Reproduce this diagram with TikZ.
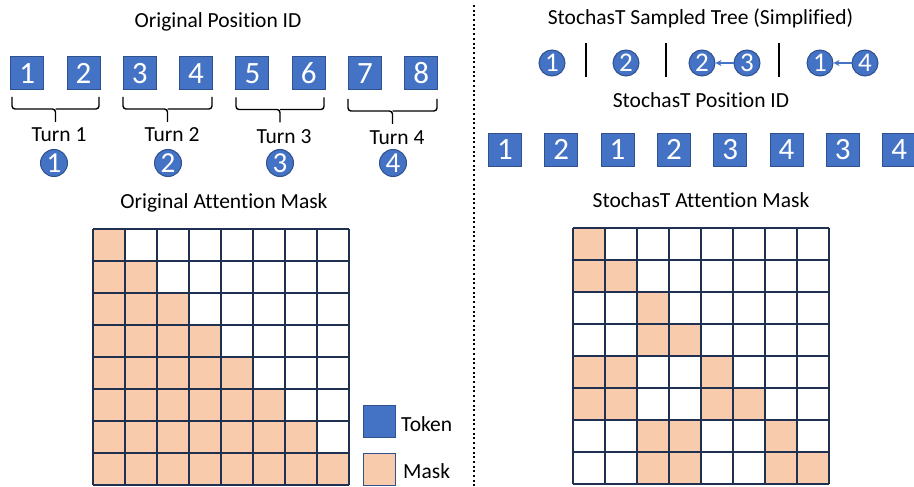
\documentclass[tikz,border=0pt]{standalone}
\usepackage{fontspec}
\setmainfont{Carlito}[Ligatures=NoCommon]
\usetikzlibrary{arrows.meta}
\definecolor{tokblue}{HTML}{4472C4}
\definecolor{tokedge}{HTML}{2F528F}
\definecolor{peach}{HTML}{F8CBAD}
\definecolor{gridc}{HTML}{1F3050}
\begin{document}
\begin{tikzpicture}[x=1pt,y=-1pt,
  lbl/.style={font=\fontsize{21.5}{25}\selectfont, inner sep=0pt, anchor=base},
  tok/.style={draw=tokedge, fill=tokblue, line width=1pt, minimum size=33pt, inner sep=0pt, text=white, font=\fontsize{31}{34}\selectfont},
  num/.style={circle, draw=tokedge, fill=tokblue, line width=1pt, minimum size=27pt, inner sep=0pt, text=white, font=\fontsize{29}{32}\selectfont},
  tnum/.style={num, minimum size=26pt, font=\fontsize{27}{30}\selectfont},
  bracket/.style={draw=black, line width=1.4pt, rounded corners=3pt},
  sep/.style={draw=black, line width=2pt},
  gridline/.style={draw=gridc, line width=1.8pt},
  treearrow/.style={draw=tokblue, line width=1.3pt, -{Stealth[length=6pt,width=6pt]}},
  divider/.style={draw=black, line width=2pt, dash pattern=on 2pt off 2.7pt}
]
\useasboundingbox (0,0) rectangle (914,487);

% ---------- left: original position id ----------
\node[lbl] (ttl1) at (218,27.5) {Original Position ID};
\foreach \i in {1,...,8} {
  \node[tok] (t\i) at ({27.2+56.3*(\i-1)},73.5) {\i};
}
% brackets
\foreach \a/\b/\dy [count=\k] in {12/99/0, 123/212/0, 236/324/0.5, 348/437/2} {
  \pgfmathsetmacro{\m}{(\a+\b)/2}
  \draw[bracket] (\a,97+\dy) -- (\a,109+\dy) -- (\m,109+\dy) -- (\m,122+\dy);
  \draw[bracket] (\b,97+\dy) -- (\b,109+\dy) -- (\m,109+\dy);
}
\node[lbl] (turn1) at (59,142) {Turn 1};
\node[lbl] (turn2) at (172,142) {Turn 2};
\node[lbl] (turn3) at (284,143) {Turn 3};
\node[lbl] (turn4) at (397,145) {Turn 4};
\node[num] (c1) at (54,163) {1};
\node[num] (c2) at (168,163) {2};
\node[num] (c3) at (280,163) {3};
\node[num] (c4) at (393,163) {4};

% ---------- left: original attention mask ----------
\node[lbl] (ttl2) at (224,208) {Original Attention Mask};
\foreach \r in {1,...,8} {
  \foreach \c in {1,...,\r} {
    \fill[peach] ({93+32*(\c-1)},{229+32*(\r-1)}) rectangle ++(32,32);
  }
}
\foreach \k in {0,...,8} {
  \draw[gridline] ({93+32*\k},229) -- ({93+32*\k},485);
  \draw[gridline] (93,{229+32*\k}) -- (349,{229+32*\k});
}

% ---------- legend ----------
\node[tok, minimum size=32pt] (legtok) at (379,421) {};
\node[lbl, anchor=base west] (legtoktxt) at (401,431) {Token};
\node[tok, fill=peach, minimum size=32pt] (legmask) at (379,469) {};
\node[lbl, anchor=base west] (legmasktxt) at (403,478) {Mask};

% ---------- divider ----------
\coordinate (dtop) at (474,5);
\coordinate (dbot) at (474,487);
\draw[divider] (dtop) -- (dbot);

% ---------- right: sampled tree ----------
\node[lbl] (ttl3) at (700.5,25) {StochasT Sampled Tree (Simplified)};
\node[tnum] (r1) at (552,63) {1};
\node[tnum] (r2) at (626,63) {2};
\node[tnum] (r3) at (702,63) {2};
\node[tnum] (r4) at (747,63) {3};
\node[tnum] (r5) at (820,63) {1};
\node[tnum] (r6) at (865,63) {4};
\coordinate (b1t) at (586,43); \coordinate (b1b) at (586,77);
\coordinate (b2t) at (666,43); \coordinate (b2b) at (666,77);
\coordinate (b3t) at (779,43); \coordinate (b3b) at (779,77);
\draw[sep] (b1t) -- (b1b);
\draw[sep] (b2t) -- (b2b);
\draw[sep] (b3t) -- (b3b);
\draw[treearrow] (r4) -- (r3);
\draw[treearrow] (r6) -- (r5);

% ---------- right: stochast position id ----------
\node[lbl] (ttl4) at (701,107) {StochasT Position ID};
\foreach \v [count=\i] in {1,2,1,2,3,4,3,4} {
  \node[tok] (s\i) at ({505+56.3*(\i-1)},149.5) {\v};
}

% ---------- right: stochast attention mask ----------
\node[lbl] (ttl5) at (701,207) {StochasT Attention Mask};
\foreach \r/\c in {1/1, 2/1,2/2, 3/3, 4/3,4/4, 5/1,5/2,5/5, 6/1,6/2,6/5,6/6, 7/3,7/4,7/7, 8/3,8/4,8/7,8/8} {
  \fill[peach] ({573+32*(\c-1)},{228+32*(\r-1)}) rectangle ++(32,32);
}
\foreach \k in {0,...,8} {
  \draw[gridline] ({573+32*\k},228) -- ({573+32*\k},484);
  \draw[gridline] (573,{228+32*\k}) -- (829,{228+32*\k});
}
\end{tikzpicture}
\end{document}
